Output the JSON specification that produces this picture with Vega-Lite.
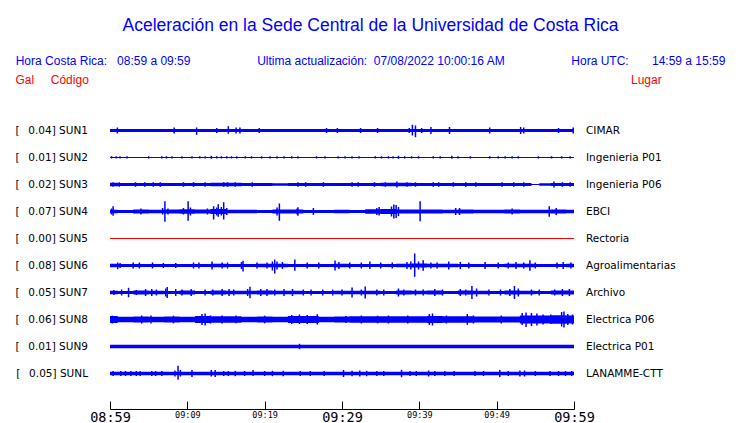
{
"$schema": "https://vega.github.io/schema/vega-lite/v6.json",
"padding": {"left": 15, "top": 16, "right": 0, "bottom": 0},
"background": "white",
"config": {"view": {"stroke": null}, "font": "DejaVu Sans"},
"title": {
  "text": "Aceleración en la Sede Central de la Universidad de Costa Rica",
  "subtitle": "Hora Costa Rica:\u00a0\u00a0\u00a008:59 a 09:59\u00a0\u00a0\u00a0\u00a0\u00a0\u00a0\u00a0\u00a0\u00a0\u00a0\u00a0\u00a0\u00a0\u00a0\u00a0\u00a0\u00a0\u00a0\u00a0\u00a0Ultima actualización:\u00a0\u00a007/08/2022 10:00:16 AM\u00a0\u00a0\u00a0\u00a0\u00a0\u00a0\u00a0\u00a0\u00a0\u00a0\u00a0\u00a0\u00a0\u00a0\u00a0\u00a0\u00a0\u00a0\u00a0\u00a0Hora UTC:\u00a0\u00a0\u00a0\u00a0\u00a0\u00a0\u00a014:59 a 15:59\u00a0\u00a0\u00a0",
  "font": "Liberation Sans", "fontSize": 17.5, "fontWeight": "normal", "color": "#0000ff",
  "subtitleFont": "Liberation Sans", "subtitleFontSize": 12, "subtitleColor": "#0000ff", "subtitlePadding": 22,
  "anchor": "middle", "dx": 25, "offset": 7
},
"datasets": {
  "estaciones": [
    {"s": "SUN1", "ord": 1, "etiqueta": "[\u00a0\u00a0\u20090.04] SUN1", "lugar": "CIMAR"},
    {"s": "SUN2", "ord": 2, "etiqueta": "[\u00a0\u00a0\u20090.01] SUN2", "lugar": "Ingenieria P01"},
    {"s": "SUN3", "ord": 3, "etiqueta": "[\u00a0\u00a0\u20090.02] SUN3", "lugar": "Ingenieria P06"},
    {"s": "SUN4", "ord": 4, "etiqueta": "[\u00a0\u00a0\u20090.07] SUN4", "lugar": "EBCI"},
    {"s": "SUN5", "ord": 5, "etiqueta": "[\u00a0\u00a0\u20090.00] SUN5", "lugar": "Rectoria"},
    {"s": "SUN6", "ord": 6, "etiqueta": "[\u00a0\u00a0\u20090.08] SUN6", "lugar": "Agroalimentarias"},
    {"s": "SUN7", "ord": 7, "etiqueta": "[\u00a0\u00a0\u20090.05] SUN7", "lugar": "Archivo"},
    {"s": "SUN8", "ord": 8, "etiqueta": "[\u00a0\u00a0\u20090.06] SUN8", "lugar": "Electrica P06"},
    {"s": "SUN9", "ord": 9, "etiqueta": "[\u00a0\u00a0\u20090.01] SUN9", "lugar": "Electrica P01"},
    {"s": "SUNL", "ord": 10, "etiqueta": "[\u00a0\u00a0\u20090.05] SUNL", "lugar": "LANAMME-CTT"}
  ],
  "trazas": [
    {"s":"SUN1","k":"e","t":0,"hi":1.5,"lo":-1.5},{"s":"SUN1","k":"e","t":60,"hi":1.5,"lo":-1.5},
    {"s":"SUN1","k":"p","t":0.95,"hi":3,"lo":-3},{"s":"SUN1","k":"p","t":8.3,"hi":3,"lo":-3},{"s":"SUN1","k":"p","t":11.2,"hi":3,"lo":-4.3},{"s":"SUN1","k":"p","t":13.8,"hi":2.5,"lo":-2.5},{"s":"SUN1","k":"p","t":15.3,"hi":4.3,"lo":-3.3},{"s":"SUN1","k":"p","t":16.3,"hi":3,"lo":-3},{"s":"SUN1","k":"p","t":16.8,"hi":3,"lo":-3},{"s":"SUN1","k":"p","t":19.3,"hi":2.5,"lo":-2.5},{"s":"SUN1","k":"p","t":28.0,"hi":2.5,"lo":-2.5},{"s":"SUN1","k":"p","t":29.4,"hi":2.5,"lo":-2.5},{"s":"SUN1","k":"p","t":32.4,"hi":2.5,"lo":-2.5},{"s":"SUN1","k":"p","t":34.6,"hi":2.5,"lo":-2.5},{"s":"SUN1","k":"p","t":38.7,"hi":2.5,"lo":-2.5},{"s":"SUN1","k":"p","t":39.1,"hi":5.7,"lo":-5},{"s":"SUN1","k":"p","t":39.5,"hi":5,"lo":-6.7},{"s":"SUN1","k":"p","t":40.3,"hi":2.5,"lo":-2.5},{"s":"SUN1","k":"p","t":41.5,"hi":3.5,"lo":-3.5},{"s":"SUN1","k":"p","t":43.9,"hi":3.5,"lo":-3.5},{"s":"SUN1","k":"p","t":49.1,"hi":3,"lo":-3},{"s":"SUN1","k":"p","t":53.1,"hi":3.5,"lo":-3.5},{"s":"SUN1","k":"p","t":53.5,"hi":3,"lo":-3},{"s":"SUN1","k":"p","t":58.0,"hi":2.5,"lo":-2.5},{"s":"SUN1","k":"p","t":59.9,"hi":3,"lo":-3},

    {"s":"SUN2","k":"e","t":0,"hi":0.5,"lo":-0.5},{"s":"SUN2","k":"e","t":60,"hi":0.5,"lo":-0.5},
    {"s":"SUN2","k":"p","t":0.2,"hi":1.3,"lo":-1},{"s":"SUN2","k":"p","t":0.8,"hi":1.3,"lo":-1},{"s":"SUN2","k":"p","t":1.3,"hi":1.3,"lo":-1},{"s":"SUN2","k":"p","t":2.2,"hi":1.3,"lo":-1},{"s":"SUN2","k":"p","t":5.0,"hi":1.3,"lo":-1},{"s":"SUN2","k":"p","t":6.7,"hi":1.3,"lo":-1},{"s":"SUN2","k":"p","t":7.3,"hi":1.3,"lo":-1},{"s":"SUN2","k":"p","t":8.0,"hi":1.3,"lo":-1},{"s":"SUN2","k":"p","t":9.3,"hi":1.3,"lo":-1},{"s":"SUN2","k":"p","t":10.6,"hi":1.3,"lo":-1},{"s":"SUN2","k":"p","t":11.6,"hi":1.3,"lo":-1},{"s":"SUN2","k":"p","t":12.3,"hi":1.3,"lo":-1},{"s":"SUN2","k":"p","t":13.1,"hi":1.7,"lo":-1.3},{"s":"SUN2","k":"p","t":13.8,"hi":1.3,"lo":-1},{"s":"SUN2","k":"p","t":14.4,"hi":1.3,"lo":-1},{"s":"SUN2","k":"p","t":15.1,"hi":1.3,"lo":-1},{"s":"SUN2","k":"p","t":15.7,"hi":1.3,"lo":-1},{"s":"SUN2","k":"p","t":16.4,"hi":1.3,"lo":-1},{"s":"SUN2","k":"p","t":17.5,"hi":1.3,"lo":-1},{"s":"SUN2","k":"p","t":18.3,"hi":1.3,"lo":-1},{"s":"SUN2","k":"p","t":19.6,"hi":1.3,"lo":-1},{"s":"SUN2","k":"p","t":20.7,"hi":1.3,"lo":-1},{"s":"SUN2","k":"p","t":21.6,"hi":1.3,"lo":-1},{"s":"SUN2","k":"p","t":22.5,"hi":1.3,"lo":-1},{"s":"SUN2","k":"p","t":23.5,"hi":1.3,"lo":-1},{"s":"SUN2","k":"p","t":24.3,"hi":1.3,"lo":-1},{"s":"SUN2","k":"p","t":26.7,"hi":1.3,"lo":-1},{"s":"SUN2","k":"p","t":27.8,"hi":1.3,"lo":-1},{"s":"SUN2","k":"p","t":29.5,"hi":1.3,"lo":-1},{"s":"SUN2","k":"p","t":30.4,"hi":1.3,"lo":-1},{"s":"SUN2","k":"p","t":31.3,"hi":1.3,"lo":-1},{"s":"SUN2","k":"p","t":32.2,"hi":1.3,"lo":-1},{"s":"SUN2","k":"p","t":34.3,"hi":1.3,"lo":-1},{"s":"SUN2","k":"p","t":35.1,"hi":1.3,"lo":-1},{"s":"SUN2","k":"p","t":36.0,"hi":1.3,"lo":-1},{"s":"SUN2","k":"p","t":36.6,"hi":1.3,"lo":-1},{"s":"SUN2","k":"p","t":37.3,"hi":1.7,"lo":-1.3},{"s":"SUN2","k":"p","t":38.1,"hi":1.3,"lo":-1},{"s":"SUN2","k":"p","t":39.0,"hi":1.3,"lo":-1},{"s":"SUN2","k":"p","t":39.9,"hi":1.3,"lo":-1},{"s":"SUN2","k":"p","t":41.8,"hi":1.3,"lo":-1},{"s":"SUN2","k":"p","t":42.7,"hi":1.3,"lo":-1},{"s":"SUN2","k":"p","t":44.2,"hi":1.7,"lo":-1.3},{"s":"SUN2","k":"p","t":45.0,"hi":1.3,"lo":-1},{"s":"SUN2","k":"p","t":46.6,"hi":1.3,"lo":-1},{"s":"SUN2","k":"p","t":49.1,"hi":1.3,"lo":-1},{"s":"SUN2","k":"p","t":50.2,"hi":1.3,"lo":-1},{"s":"SUN2","k":"p","t":51.1,"hi":1.3,"lo":-1},{"s":"SUN2","k":"p","t":52.0,"hi":1.3,"lo":-1},{"s":"SUN2","k":"p","t":52.8,"hi":1.3,"lo":-1},{"s":"SUN2","k":"p","t":55.4,"hi":1.3,"lo":-1},{"s":"SUN2","k":"p","t":57.1,"hi":1.3,"lo":-1},{"s":"SUN2","k":"p","t":58.4,"hi":1.3,"lo":-1},{"s":"SUN2","k":"p","t":59.5,"hi":1.3,"lo":-1},

    {"s":"SUN3","k":"e","t":0,"hi":1.8,"lo":-1.8},{"s":"SUN3","k":"e","t":2,"hi":1.6,"lo":-1.6},{"s":"SUN3","k":"e","t":4,"hi":1.6,"lo":-1.6},{"s":"SUN3","k":"e","t":6,"hi":1.5,"lo":-1.5},{"s":"SUN3","k":"e","t":8,"hi":1.5,"lo":-1.5},{"s":"SUN3","k":"e","t":10,"hi":1.6,"lo":-1.6},{"s":"SUN3","k":"e","t":12,"hi":1.6,"lo":-1.6},{"s":"SUN3","k":"e","t":14,"hi":1.8,"lo":-1.8},{"s":"SUN3","k":"e","t":16,"hi":1.8,"lo":-1.8},{"s":"SUN3","k":"e","t":18,"hi":1.5,"lo":-1.5},{"s":"SUN3","k":"e","t":20,"hi":1.4,"lo":-1.4},{"s":"SUN3","k":"e","t":22,"hi":1.3,"lo":-1.3},{"s":"SUN3","k":"e","t":24,"hi":1.6,"lo":-1.6},{"s":"SUN3","k":"e","t":26,"hi":1.4,"lo":-1.4},{"s":"SUN3","k":"e","t":28,"hi":1.5,"lo":-1.5},{"s":"SUN3","k":"e","t":30,"hi":1.5,"lo":-1.5},{"s":"SUN3","k":"e","t":32,"hi":1.5,"lo":-1.5},{"s":"SUN3","k":"e","t":34,"hi":1.6,"lo":-1.6},{"s":"SUN3","k":"e","t":36,"hi":1.8,"lo":-1.8},{"s":"SUN3","k":"e","t":38,"hi":1.8,"lo":-1.8},{"s":"SUN3","k":"e","t":40,"hi":1.6,"lo":-1.6},{"s":"SUN3","k":"e","t":42,"hi":1.6,"lo":-1.6},{"s":"SUN3","k":"e","t":44,"hi":1.5,"lo":-1.5},{"s":"SUN3","k":"e","t":46,"hi":1.6,"lo":-1.6},{"s":"SUN3","k":"e","t":48,"hi":1.4,"lo":-1.4},{"s":"SUN3","k":"e","t":50,"hi":1.6,"lo":-1.6},{"s":"SUN3","k":"e","t":52,"hi":1.6,"lo":-1.6},{"s":"SUN3","k":"e","t":54,"hi":1.5,"lo":-1.5},{"s":"SUN3","k":"e","t":55,"hi":0.5,"lo":-0.5},{"s":"SUN3","k":"e","t":56,"hi":1.3,"lo":-1.3},{"s":"SUN3","k":"e","t":58,"hi":1.6,"lo":-1.6},{"s":"SUN3","k":"e","t":60,"hi":1.6,"lo":-1.6},
    {"s":"SUN3","k":"p","t":0.4,"hi":2.3,"lo":-2.3},{"s":"SUN3","k":"p","t":1.2,"hi":2.3,"lo":-2.3},{"s":"SUN3","k":"p","t":3.3,"hi":2.3,"lo":-2.3},{"s":"SUN3","k":"p","t":4.5,"hi":2.3,"lo":-2.3},{"s":"SUN3","k":"p","t":5.6,"hi":2.3,"lo":-2.3},{"s":"SUN3","k":"p","t":6.5,"hi":2.3,"lo":-2.3},{"s":"SUN3","k":"p","t":9.5,"hi":2.3,"lo":-2.3},{"s":"SUN3","k":"p","t":10.8,"hi":2.3,"lo":-2.3},{"s":"SUN3","k":"p","t":12.3,"hi":2.3,"lo":-2.3},{"s":"SUN3","k":"p","t":14.7,"hi":2.3,"lo":-2.3},{"s":"SUN3","k":"p","t":15.2,"hi":2.3,"lo":-2.3},{"s":"SUN3","k":"p","t":16.2,"hi":2.3,"lo":-2.3},{"s":"SUN3","k":"p","t":18.4,"hi":2.3,"lo":-2.3},{"s":"SUN3","k":"p","t":24.3,"hi":2.3,"lo":-2.3},{"s":"SUN3","k":"p","t":25.3,"hi":2.3,"lo":-2.3},{"s":"SUN3","k":"p","t":27.6,"hi":2.3,"lo":-2.3},{"s":"SUN3","k":"p","t":31.3,"hi":2.3,"lo":-2.3},{"s":"SUN3","k":"p","t":32.1,"hi":2.3,"lo":-2.3},{"s":"SUN3","k":"p","t":34.2,"hi":2.3,"lo":-2.3},{"s":"SUN3","k":"p","t":35.6,"hi":2.3,"lo":-2.3},{"s":"SUN3","k":"p","t":37.1,"hi":3,"lo":-3},{"s":"SUN3","k":"p","t":38.4,"hi":2.3,"lo":-2.3},{"s":"SUN3","k":"p","t":39.5,"hi":2.3,"lo":-2.3},{"s":"SUN3","k":"p","t":41.8,"hi":2.3,"lo":-2.3},{"s":"SUN3","k":"p","t":42.5,"hi":2.3,"lo":-2.3},{"s":"SUN3","k":"p","t":44.4,"hi":2.3,"lo":-2.3},{"s":"SUN3","k":"p","t":46.0,"hi":2.3,"lo":-2.3},{"s":"SUN3","k":"p","t":47.3,"hi":2.3,"lo":-2.3},{"s":"SUN3","k":"p","t":50.7,"hi":2.3,"lo":-2.3},{"s":"SUN3","k":"p","t":52.2,"hi":2.3,"lo":-2.3},{"s":"SUN3","k":"p","t":53.5,"hi":2.3,"lo":-2.3},{"s":"SUN3","k":"p","t":57.4,"hi":3,"lo":-3},{"s":"SUN3","k":"p","t":58.5,"hi":2.3,"lo":-2.3},{"s":"SUN3","k":"p","t":59.5,"hi":2.3,"lo":-2.3},

    {"s":"SUN4","k":"e","t":0,"hi":1.8,"lo":-1.8},{"s":"SUN4","k":"e","t":2,"hi":1.4,"lo":-1.4},{"s":"SUN4","k":"e","t":4,"hi":2.0,"lo":-2.0},{"s":"SUN4","k":"e","t":6,"hi":1.8,"lo":-1.8},{"s":"SUN4","k":"e","t":8,"hi":2.0,"lo":-2.0},{"s":"SUN4","k":"e","t":10,"hi":2.2,"lo":-2.2},{"s":"SUN4","k":"e","t":12,"hi":2.0,"lo":-2.0},{"s":"SUN4","k":"e","t":14,"hi":2.6,"lo":-2.6},{"s":"SUN4","k":"e","t":16,"hi":1.8,"lo":-1.8},{"s":"SUN4","k":"e","t":18,"hi":1.8,"lo":-1.8},{"s":"SUN4","k":"e","t":20,"hi":1.6,"lo":-1.6},{"s":"SUN4","k":"e","t":22,"hi":2.0,"lo":-2.0},{"s":"SUN4","k":"e","t":24,"hi":2.0,"lo":-2.0},{"s":"SUN4","k":"e","t":26,"hi":1.6,"lo":-1.6},{"s":"SUN4","k":"e","t":28,"hi":1.6,"lo":-1.6},{"s":"SUN4","k":"e","t":30,"hi":1.8,"lo":-1.8},{"s":"SUN4","k":"e","t":32,"hi":1.6,"lo":-1.6},{"s":"SUN4","k":"e","t":34,"hi":2.2,"lo":-2.2},{"s":"SUN4","k":"e","t":36,"hi":2.4,"lo":-2.4},{"s":"SUN4","k":"e","t":38,"hi":2.0,"lo":-2.0},{"s":"SUN4","k":"e","t":40,"hi":2.0,"lo":-2.0},{"s":"SUN4","k":"e","t":42,"hi":2.0,"lo":-2.0},{"s":"SUN4","k":"e","t":44,"hi":1.8,"lo":-1.8},{"s":"SUN4","k":"e","t":46,"hi":2.0,"lo":-2.0},{"s":"SUN4","k":"e","t":48,"hi":1.8,"lo":-1.8},{"s":"SUN4","k":"e","t":50,"hi":1.8,"lo":-1.8},{"s":"SUN4","k":"e","t":52,"hi":2.0,"lo":-2.0},{"s":"SUN4","k":"e","t":54,"hi":1.8,"lo":-1.8},{"s":"SUN4","k":"e","t":56,"hi":1.8,"lo":-1.8},{"s":"SUN4","k":"e","t":58,"hi":2.0,"lo":-2.0},{"s":"SUN4","k":"e","t":60,"hi":1.8,"lo":-1.8},
    {"s":"SUN4","k":"p","t":0.2,"hi":3,"lo":-3},{"s":"SUN4","k":"p","t":0.4,"hi":5.3,"lo":-4.3},{"s":"SUN4","k":"p","t":4.0,"hi":3,"lo":-3},{"s":"SUN4","k":"p","t":6.8,"hi":3.5,"lo":-3},{"s":"SUN4","k":"p","t":7.1,"hi":10.3,"lo":-10.3},{"s":"SUN4","k":"p","t":7.5,"hi":3,"lo":-3},{"s":"SUN4","k":"p","t":9.5,"hi":3.5,"lo":-3},{"s":"SUN4","k":"p","t":10.1,"hi":10.3,"lo":-9.3},{"s":"SUN4","k":"p","t":10.4,"hi":4,"lo":-4},{"s":"SUN4","k":"p","t":12.6,"hi":3,"lo":-3},{"s":"SUN4","k":"p","t":13.4,"hi":5.3,"lo":-8},{"s":"SUN4","k":"p","t":13.8,"hi":4,"lo":-4},{"s":"SUN4","k":"p","t":14.0,"hi":7.3,"lo":-5.3},{"s":"SUN4","k":"p","t":14.4,"hi":4.5,"lo":-4},{"s":"SUN4","k":"p","t":14.7,"hi":9.3,"lo":-8},{"s":"SUN4","k":"p","t":15.1,"hi":3.5,"lo":-3.5},{"s":"SUN4","k":"p","t":21.6,"hi":4,"lo":-4},{"s":"SUN4","k":"p","t":21.9,"hi":8,"lo":-9.3},{"s":"SUN4","k":"p","t":24.2,"hi":3,"lo":-3},{"s":"SUN4","k":"p","t":24.3,"hi":4.3,"lo":-4.3},{"s":"SUN4","k":"p","t":26.3,"hi":3.5,"lo":-3.5},{"s":"SUN4","k":"p","t":34.5,"hi":3.5,"lo":-3.5},{"s":"SUN4","k":"p","t":34.8,"hi":4.5,"lo":-4},{"s":"SUN4","k":"p","t":36.4,"hi":5,"lo":-5},{"s":"SUN4","k":"p","t":36.7,"hi":7,"lo":-7},{"s":"SUN4","k":"p","t":37.0,"hi":6.5,"lo":-6.5},{"s":"SUN4","k":"p","t":37.3,"hi":4.5,"lo":-4.5},{"s":"SUN4","k":"p","t":40.1,"hi":10.3,"lo":-9.7},{"s":"SUN4","k":"p","t":44.7,"hi":3.5,"lo":-3.5},{"s":"SUN4","k":"p","t":45.2,"hi":3.5,"lo":-3.5},{"s":"SUN4","k":"p","t":52.0,"hi":3,"lo":-3},{"s":"SUN4","k":"p","t":56.8,"hi":5.3,"lo":-5.3},{"s":"SUN4","k":"p","t":57.7,"hi":3.5,"lo":-3.5},

    {"s":"SUN5","k":"e","t":0,"hi":0,"lo":0},{"s":"SUN5","k":"e","t":60,"hi":0,"lo":0},

    {"s":"SUN6","k":"e","t":0,"hi":1.8,"lo":-1.8},{"s":"SUN6","k":"e","t":2,"hi":1.6,"lo":-1.6},{"s":"SUN6","k":"e","t":4,"hi":1.4,"lo":-1.4},{"s":"SUN6","k":"e","t":6,"hi":1.6,"lo":-1.6},{"s":"SUN6","k":"e","t":8,"hi":1.4,"lo":-1.4},{"s":"SUN6","k":"e","t":10,"hi":1.6,"lo":-1.6},{"s":"SUN6","k":"e","t":12,"hi":1.6,"lo":-1.6},{"s":"SUN6","k":"e","t":14,"hi":1.8,"lo":-1.8},{"s":"SUN6","k":"e","t":16,"hi":1.6,"lo":-1.6},{"s":"SUN6","k":"e","t":18,"hi":1.6,"lo":-1.6},{"s":"SUN6","k":"e","t":20,"hi":1.8,"lo":-1.8},{"s":"SUN6","k":"e","t":22,"hi":1.8,"lo":-1.8},{"s":"SUN6","k":"e","t":24,"hi":1.6,"lo":-1.6},{"s":"SUN6","k":"e","t":26,"hi":1.6,"lo":-1.6},{"s":"SUN6","k":"e","t":28,"hi":1.4,"lo":-1.4},{"s":"SUN6","k":"e","t":30,"hi":1.8,"lo":-1.8},{"s":"SUN6","k":"e","t":32,"hi":1.6,"lo":-1.6},{"s":"SUN6","k":"e","t":34,"hi":1.6,"lo":-1.6},{"s":"SUN6","k":"e","t":36,"hi":1.6,"lo":-1.6},{"s":"SUN6","k":"e","t":38,"hi":1.8,"lo":-1.8},{"s":"SUN6","k":"e","t":40,"hi":2.0,"lo":-2.0},{"s":"SUN6","k":"e","t":42,"hi":1.8,"lo":-1.8},{"s":"SUN6","k":"e","t":44,"hi":1.8,"lo":-1.8},{"s":"SUN6","k":"e","t":46,"hi":1.6,"lo":-1.6},{"s":"SUN6","k":"e","t":48,"hi":1.4,"lo":-1.4},{"s":"SUN6","k":"e","t":50,"hi":1.6,"lo":-1.6},{"s":"SUN6","k":"e","t":52,"hi":1.8,"lo":-1.8},{"s":"SUN6","k":"e","t":54,"hi":1.8,"lo":-1.8},{"s":"SUN6","k":"e","t":56,"hi":1.4,"lo":-1.4},{"s":"SUN6","k":"e","t":58,"hi":1.6,"lo":-1.6},{"s":"SUN6","k":"e","t":60,"hi":1.8,"lo":-1.8},
    {"s":"SUN6","k":"p","t":1.0,"hi":3,"lo":-3.7},{"s":"SUN6","k":"p","t":1.3,"hi":2.5,"lo":-2.5},{"s":"SUN6","k":"p","t":3.0,"hi":3,"lo":-3},{"s":"SUN6","k":"p","t":3.8,"hi":3,"lo":-3},{"s":"SUN6","k":"p","t":5.5,"hi":3,"lo":-3},{"s":"SUN6","k":"p","t":6.9,"hi":2.5,"lo":-2.5},{"s":"SUN6","k":"p","t":8.5,"hi":2.5,"lo":-2.5},{"s":"SUN6","k":"p","t":10.8,"hi":3,"lo":-3},{"s":"SUN6","k":"p","t":11.5,"hi":3,"lo":-3},{"s":"SUN6","k":"p","t":13.2,"hi":4,"lo":-4},{"s":"SUN6","k":"p","t":14.5,"hi":3,"lo":-3},{"s":"SUN6","k":"p","t":15.2,"hi":3,"lo":-3},{"s":"SUN6","k":"p","t":17.0,"hi":3.5,"lo":-3.5},{"s":"SUN6","k":"p","t":17.2,"hi":4.7,"lo":-6},{"s":"SUN6","k":"p","t":19.0,"hi":3,"lo":-3},{"s":"SUN6","k":"p","t":20.3,"hi":3,"lo":-3},{"s":"SUN6","k":"p","t":21.0,"hi":4,"lo":-5},{"s":"SUN6","k":"p","t":21.3,"hi":6,"lo":-8},{"s":"SUN6","k":"p","t":21.6,"hi":4,"lo":-4},{"s":"SUN6","k":"p","t":22.3,"hi":3.5,"lo":-3.5},{"s":"SUN6","k":"p","t":23.9,"hi":6,"lo":-5.3},{"s":"SUN6","k":"p","t":25.5,"hi":3,"lo":-3},{"s":"SUN6","k":"p","t":27.0,"hi":3,"lo":-3},{"s":"SUN6","k":"p","t":29.1,"hi":5,"lo":-5},{"s":"SUN6","k":"p","t":29.6,"hi":3.5,"lo":-3.5},{"s":"SUN6","k":"p","t":31.0,"hi":3,"lo":-3},{"s":"SUN6","k":"p","t":32.5,"hi":3,"lo":-3},{"s":"SUN6","k":"p","t":33.6,"hi":4,"lo":-3.5},{"s":"SUN6","k":"p","t":35.0,"hi":3,"lo":-3},{"s":"SUN6","k":"p","t":36.5,"hi":3,"lo":-3},{"s":"SUN6","k":"p","t":38.4,"hi":3.5,"lo":-3.5},{"s":"SUN6","k":"p","t":38.9,"hi":4,"lo":-4},{"s":"SUN6","k":"p","t":39.4,"hi":12,"lo":-11.3},{"s":"SUN6","k":"p","t":39.9,"hi":4,"lo":-4},{"s":"SUN6","k":"p","t":40.5,"hi":5.3,"lo":-5.3},{"s":"SUN6","k":"p","t":41.5,"hi":3,"lo":-3},{"s":"SUN6","k":"p","t":42.3,"hi":3,"lo":-3},{"s":"SUN6","k":"p","t":43.8,"hi":4,"lo":-4},{"s":"SUN6","k":"p","t":45.3,"hi":3.5,"lo":-3.5},{"s":"SUN6","k":"p","t":46.4,"hi":3,"lo":-3},{"s":"SUN6","k":"p","t":48.5,"hi":3.5,"lo":-3.5},{"s":"SUN6","k":"p","t":50.2,"hi":3,"lo":-3},{"s":"SUN6","k":"p","t":51.5,"hi":3,"lo":-3},{"s":"SUN6","k":"p","t":52.5,"hi":3.5,"lo":-3.5},{"s":"SUN6","k":"p","t":53.5,"hi":3,"lo":-3},{"s":"SUN6","k":"p","t":54.3,"hi":5.3,"lo":-5.3},{"s":"SUN6","k":"p","t":55.0,"hi":3,"lo":-3},{"s":"SUN6","k":"p","t":57.8,"hi":3,"lo":-3},{"s":"SUN6","k":"p","t":58.6,"hi":3.5,"lo":-3.5},{"s":"SUN6","k":"p","t":59.6,"hi":3,"lo":-3},

    {"s":"SUN7","k":"e","t":0,"hi":1.8,"lo":-1.8},{"s":"SUN7","k":"e","t":2,"hi":1.6,"lo":-1.6},{"s":"SUN7","k":"e","t":4,"hi":2.0,"lo":-2.0},{"s":"SUN7","k":"e","t":6,"hi":1.8,"lo":-1.8},{"s":"SUN7","k":"e","t":8,"hi":1.6,"lo":-1.6},{"s":"SUN7","k":"e","t":10,"hi":2.0,"lo":-2.0},{"s":"SUN7","k":"e","t":12,"hi":1.6,"lo":-1.6},{"s":"SUN7","k":"e","t":14,"hi":2.0,"lo":-2.0},{"s":"SUN7","k":"e","t":16,"hi":1.8,"lo":-1.8},{"s":"SUN7","k":"e","t":18,"hi":1.8,"lo":-1.8},{"s":"SUN7","k":"e","t":20,"hi":2.0,"lo":-2.0},{"s":"SUN7","k":"e","t":22,"hi":1.8,"lo":-1.8},{"s":"SUN7","k":"e","t":24,"hi":1.8,"lo":-1.8},{"s":"SUN7","k":"e","t":26,"hi":1.6,"lo":-1.6},{"s":"SUN7","k":"e","t":28,"hi":1.6,"lo":-1.6},{"s":"SUN7","k":"e","t":30,"hi":1.8,"lo":-1.8},{"s":"SUN7","k":"e","t":32,"hi":1.8,"lo":-1.8},{"s":"SUN7","k":"e","t":34,"hi":1.8,"lo":-1.8},{"s":"SUN7","k":"e","t":36,"hi":1.6,"lo":-1.6},{"s":"SUN7","k":"e","t":38,"hi":2.0,"lo":-2.0},{"s":"SUN7","k":"e","t":40,"hi":1.8,"lo":-1.8},{"s":"SUN7","k":"e","t":42,"hi":2.0,"lo":-2.0},{"s":"SUN7","k":"e","t":44,"hi":1.6,"lo":-1.6},{"s":"SUN7","k":"e","t":46,"hi":2.0,"lo":-2.0},{"s":"SUN7","k":"e","t":48,"hi":1.8,"lo":-1.8},{"s":"SUN7","k":"e","t":50,"hi":1.6,"lo":-1.6},{"s":"SUN7","k":"e","t":52,"hi":2.0,"lo":-2.0},{"s":"SUN7","k":"e","t":54,"hi":1.8,"lo":-1.8},{"s":"SUN7","k":"e","t":56,"hi":1.6,"lo":-1.6},{"s":"SUN7","k":"e","t":58,"hi":2.0,"lo":-2.0},{"s":"SUN7","k":"e","t":60,"hi":2.0,"lo":-2.0},
    {"s":"SUN7","k":"p","t":0.5,"hi":2.5,"lo":-2.5},{"s":"SUN7","k":"p","t":1.5,"hi":3,"lo":-3},{"s":"SUN7","k":"p","t":2.4,"hi":4.7,"lo":-4.7},{"s":"SUN7","k":"p","t":3.4,"hi":2.5,"lo":-2.5},{"s":"SUN7","k":"p","t":4.6,"hi":3.5,"lo":-3.5},{"s":"SUN7","k":"p","t":5.4,"hi":3.5,"lo":-3.5},{"s":"SUN7","k":"p","t":6.0,"hi":3,"lo":-3},{"s":"SUN7","k":"p","t":7.2,"hi":4,"lo":-4},{"s":"SUN7","k":"p","t":7.4,"hi":5.5,"lo":-5.5},{"s":"SUN7","k":"p","t":8.5,"hi":3.5,"lo":-3.5},{"s":"SUN7","k":"p","t":9.3,"hi":3,"lo":-3},{"s":"SUN7","k":"p","t":10.5,"hi":3.5,"lo":-3.5},{"s":"SUN7","k":"p","t":12.3,"hi":3,"lo":-3},{"s":"SUN7","k":"p","t":13.3,"hi":3,"lo":-3},{"s":"SUN7","k":"p","t":14.5,"hi":3.5,"lo":-3.5},{"s":"SUN7","k":"p","t":15.4,"hi":3.5,"lo":-3.5},{"s":"SUN7","k":"p","t":16.0,"hi":3,"lo":-3},{"s":"SUN7","k":"p","t":17.8,"hi":3.5,"lo":-3.5},{"s":"SUN7","k":"p","t":18.1,"hi":5.7,"lo":-5.7},{"s":"SUN7","k":"p","t":19.5,"hi":3.5,"lo":-3.5},{"s":"SUN7","k":"p","t":20.3,"hi":3.5,"lo":-3.5},{"s":"SUN7","k":"p","t":21.3,"hi":3,"lo":-3},{"s":"SUN7","k":"p","t":22.5,"hi":3.5,"lo":-3.5},{"s":"SUN7","k":"p","t":23.6,"hi":3.5,"lo":-3.5},{"s":"SUN7","k":"p","t":25.0,"hi":3,"lo":-3},{"s":"SUN7","k":"p","t":26.0,"hi":3,"lo":-3},{"s":"SUN7","k":"p","t":27.5,"hi":3,"lo":-3},{"s":"SUN7","k":"p","t":28.8,"hi":3,"lo":-3},{"s":"SUN7","k":"p","t":30.0,"hi":3,"lo":-3},{"s":"SUN7","k":"p","t":31.3,"hi":5,"lo":-5},{"s":"SUN7","k":"p","t":32.5,"hi":3,"lo":-3},{"s":"SUN7","k":"p","t":33.0,"hi":6,"lo":-6},{"s":"SUN7","k":"p","t":34.5,"hi":3,"lo":-3},{"s":"SUN7","k":"p","t":35.4,"hi":3,"lo":-3},{"s":"SUN7","k":"p","t":37.3,"hi":4,"lo":-4},{"s":"SUN7","k":"p","t":38.0,"hi":3,"lo":-3},{"s":"SUN7","k":"p","t":39.5,"hi":3,"lo":-3},{"s":"SUN7","k":"p","t":40.5,"hi":3,"lo":-3},{"s":"SUN7","k":"p","t":42.0,"hi":3.5,"lo":-3.5},{"s":"SUN7","k":"p","t":43.0,"hi":3,"lo":-3},{"s":"SUN7","k":"p","t":45.3,"hi":3.5,"lo":-3.5},{"s":"SUN7","k":"p","t":46.0,"hi":3,"lo":-3},{"s":"SUN7","k":"p","t":46.8,"hi":6.5,"lo":-6.5},{"s":"SUN7","k":"p","t":47.4,"hi":4,"lo":-4},{"s":"SUN7","k":"p","t":49.0,"hi":3,"lo":-3},{"s":"SUN7","k":"p","t":50.5,"hi":3,"lo":-3},{"s":"SUN7","k":"p","t":51.7,"hi":3.5,"lo":-3.5},{"s":"SUN7","k":"p","t":52.3,"hi":6.5,"lo":-6.5},{"s":"SUN7","k":"p","t":52.8,"hi":4,"lo":-4},{"s":"SUN7","k":"p","t":54.5,"hi":3,"lo":-3},{"s":"SUN7","k":"p","t":55.5,"hi":3,"lo":-3},{"s":"SUN7","k":"p","t":57.5,"hi":3,"lo":-3},{"s":"SUN7","k":"p","t":58.5,"hi":3.5,"lo":-3.5},{"s":"SUN7","k":"p","t":59.4,"hi":3.5,"lo":-3.5},

    {"s":"SUN8","k":"e","t":0,"hi":3.5,"lo":-3.5},{"s":"SUN8","k":"e","t":2,"hi":2.8,"lo":-2.8},{"s":"SUN8","k":"e","t":4,"hi":3.0,"lo":-3.0},{"s":"SUN8","k":"e","t":6,"hi":2.8,"lo":-2.8},{"s":"SUN8","k":"e","t":8,"hi":3.0,"lo":-3.0},{"s":"SUN8","k":"e","t":10,"hi":2.8,"lo":-2.8},{"s":"SUN8","k":"e","t":12,"hi":3.5,"lo":-3.5},{"s":"SUN8","k":"e","t":14,"hi":3.2,"lo":-3.2},{"s":"SUN8","k":"e","t":16,"hi":3.2,"lo":-3.2},{"s":"SUN8","k":"e","t":18,"hi":2.8,"lo":-2.8},{"s":"SUN8","k":"e","t":20,"hi":3.0,"lo":-3.0},{"s":"SUN8","k":"e","t":22,"hi":2.8,"lo":-2.8},{"s":"SUN8","k":"e","t":24,"hi":3.5,"lo":-3.5},{"s":"SUN8","k":"e","t":26,"hi":3.5,"lo":-3.5},{"s":"SUN8","k":"e","t":28,"hi":2.8,"lo":-2.8},{"s":"SUN8","k":"e","t":30,"hi":3.0,"lo":-3.0},{"s":"SUN8","k":"e","t":32,"hi":3.2,"lo":-3.2},{"s":"SUN8","k":"e","t":34,"hi":3.2,"lo":-3.2},{"s":"SUN8","k":"e","t":36,"hi":3.2,"lo":-3.2},{"s":"SUN8","k":"e","t":38,"hi":3.2,"lo":-3.2},{"s":"SUN8","k":"e","t":40,"hi":3.2,"lo":-3.2},{"s":"SUN8","k":"e","t":42,"hi":3.5,"lo":-3.5},{"s":"SUN8","k":"e","t":44,"hi":3.2,"lo":-3.2},{"s":"SUN8","k":"e","t":46,"hi":3.2,"lo":-3.2},{"s":"SUN8","k":"e","t":48,"hi":3.0,"lo":-3.0},{"s":"SUN8","k":"e","t":50,"hi":3.0,"lo":-3.0},{"s":"SUN8","k":"e","t":52,"hi":3.0,"lo":-3.0},{"s":"SUN8","k":"e","t":54,"hi":4.0,"lo":-4.0},{"s":"SUN8","k":"e","t":56,"hi":4.0,"lo":-4.0},{"s":"SUN8","k":"e","t":58,"hi":4.2,"lo":-4.2},{"s":"SUN8","k":"e","t":60,"hi":4.0,"lo":-4.0},
    {"s":"SUN8","k":"p","t":0.3,"hi":3.8,"lo":-4},{"s":"SUN8","k":"p","t":4.1,"hi":4,"lo":-4},{"s":"SUN8","k":"p","t":5.3,"hi":4,"lo":-4},{"s":"SUN8","k":"p","t":8.2,"hi":3.8,"lo":-3.8},{"s":"SUN8","k":"p","t":11.9,"hi":5.5,"lo":-5.5},{"s":"SUN8","k":"p","t":12.3,"hi":6,"lo":-6},{"s":"SUN8","k":"p","t":13.0,"hi":4,"lo":-4},{"s":"SUN8","k":"p","t":14.5,"hi":4,"lo":-4},{"s":"SUN8","k":"p","t":16.3,"hi":4,"lo":-3.8},{"s":"SUN8","k":"p","t":20.0,"hi":3.8,"lo":-3.8},{"s":"SUN8","k":"p","t":23.5,"hi":4.5,"lo":-4.5},{"s":"SUN8","k":"p","t":24.5,"hi":5,"lo":-4.5},{"s":"SUN8","k":"p","t":25.5,"hi":4.5,"lo":-4.5},{"s":"SUN8","k":"p","t":26.8,"hi":5.3,"lo":-5},{"s":"SUN8","k":"p","t":30.5,"hi":3.5,"lo":-3.5},{"s":"SUN8","k":"p","t":32.5,"hi":4,"lo":-4},{"s":"SUN8","k":"p","t":34.6,"hi":3.8,"lo":-3.8},{"s":"SUN8","k":"p","t":36.0,"hi":4,"lo":-4},{"s":"SUN8","k":"p","t":38.5,"hi":4,"lo":-4},{"s":"SUN8","k":"p","t":41.3,"hi":5.5,"lo":-5.5},{"s":"SUN8","k":"p","t":41.7,"hi":6,"lo":-6},{"s":"SUN8","k":"p","t":43.5,"hi":4,"lo":-4},{"s":"SUN8","k":"p","t":46.2,"hi":5.5,"lo":-5.3},{"s":"SUN8","k":"p","t":47.0,"hi":4,"lo":-4},{"s":"SUN8","k":"p","t":50.6,"hi":4,"lo":-4},{"s":"SUN8","k":"p","t":53.3,"hi":6.5,"lo":-5.5},{"s":"SUN8","k":"p","t":53.8,"hi":7,"lo":-7.5},{"s":"SUN8","k":"p","t":54.5,"hi":6.5,"lo":-6.5},{"s":"SUN8","k":"p","t":55.2,"hi":6,"lo":-6},{"s":"SUN8","k":"p","t":56.0,"hi":5,"lo":-5},{"s":"SUN8","k":"p","t":57.0,"hi":5,"lo":-4.5},{"s":"SUN8","k":"p","t":58.4,"hi":7.5,"lo":-7},{"s":"SUN8","k":"p","t":58.7,"hi":8,"lo":-8},{"s":"SUN8","k":"p","t":59.2,"hi":5.5,"lo":-5.5},{"s":"SUN8","k":"p","t":59.8,"hi":5,"lo":-5},

    {"s":"SUN9","k":"e","t":0,"hi":1.7,"lo":-1.7},{"s":"SUN9","k":"e","t":60,"hi":1.7,"lo":-1.7},
    {"s":"SUN9","k":"p","t":24.5,"hi":2.7,"lo":-2.7},

    {"s":"SUNL","k":"e","t":0,"hi":1.7,"lo":-1.7},{"s":"SUNL","k":"e","t":60,"hi":1.7,"lo":-1.7},
    {"s":"SUNL","k":"p","t":0.4,"hi":2.5,"lo":-2.5},{"s":"SUNL","k":"p","t":1.4,"hi":2.5,"lo":-2.5},{"s":"SUNL","k":"p","t":2.0,"hi":2.5,"lo":-2.5},{"s":"SUNL","k":"p","t":2.7,"hi":2.5,"lo":-2.5},{"s":"SUNL","k":"p","t":3.4,"hi":2.5,"lo":-2.5},{"s":"SUNL","k":"p","t":3.9,"hi":2.5,"lo":-2.5},{"s":"SUNL","k":"p","t":5.4,"hi":2.5,"lo":-2.5},{"s":"SUNL","k":"p","t":5.9,"hi":2.5,"lo":-2.5},{"s":"SUNL","k":"p","t":6.7,"hi":2.5,"lo":-2.5},{"s":"SUNL","k":"p","t":8.4,"hi":3,"lo":-3},{"s":"SUNL","k":"p","t":8.8,"hi":7.7,"lo":-6.3},{"s":"SUNL","k":"p","t":9.1,"hi":3.5,"lo":-3},{"s":"SUNL","k":"p","t":10.6,"hi":3.5,"lo":-3.5},{"s":"SUNL","k":"p","t":13.1,"hi":3.5,"lo":-3},{"s":"SUNL","k":"p","t":13.6,"hi":3.5,"lo":-3.5},{"s":"SUNL","k":"p","t":14.7,"hi":2.5,"lo":-2.5},{"s":"SUNL","k":"p","t":15.3,"hi":2.5,"lo":-2.5},{"s":"SUNL","k":"p","t":16.2,"hi":2.7,"lo":-2.7},{"s":"SUNL","k":"p","t":17.4,"hi":2.5,"lo":-2.5},{"s":"SUNL","k":"p","t":18.5,"hi":3.5,"lo":-2.5},{"s":"SUNL","k":"p","t":20.0,"hi":2.5,"lo":-2.5},{"s":"SUNL","k":"p","t":21.0,"hi":2.7,"lo":-2.7},{"s":"SUNL","k":"p","t":22.4,"hi":2.7,"lo":-2.7},{"s":"SUNL","k":"p","t":24.6,"hi":2.5,"lo":-2.5},{"s":"SUNL","k":"p","t":25.9,"hi":2.5,"lo":-2.5},{"s":"SUNL","k":"p","t":27.7,"hi":2.5,"lo":-2.5},{"s":"SUNL","k":"p","t":30.2,"hi":3.5,"lo":-3.5},{"s":"SUNL","k":"p","t":31.3,"hi":2.7,"lo":-2.7},{"s":"SUNL","k":"p","t":32.3,"hi":3,"lo":-3},{"s":"SUNL","k":"p","t":33.2,"hi":2.7,"lo":-2.7},{"s":"SUNL","k":"p","t":34.5,"hi":2.5,"lo":-2.5},{"s":"SUNL","k":"p","t":35.4,"hi":2.5,"lo":-2.5},{"s":"SUNL","k":"p","t":37.7,"hi":3.7,"lo":-3.7},{"s":"SUNL","k":"p","t":38.8,"hi":2.5,"lo":-2.5},{"s":"SUNL","k":"p","t":39.6,"hi":2.5,"lo":-2.5},{"s":"SUNL","k":"p","t":41.2,"hi":3,"lo":-3},{"s":"SUNL","k":"p","t":42.0,"hi":2.5,"lo":-2.5},{"s":"SUNL","k":"p","t":43.3,"hi":2.5,"lo":-2.5},{"s":"SUNL","k":"p","t":44.5,"hi":2.5,"lo":-2.5},{"s":"SUNL","k":"p","t":47.2,"hi":2.5,"lo":-2.5},{"s":"SUNL","k":"p","t":48.3,"hi":2.5,"lo":-2.5},{"s":"SUNL","k":"p","t":50.4,"hi":3.5,"lo":-3.5},{"s":"SUNL","k":"p","t":51.5,"hi":2.5,"lo":-2.5},{"s":"SUNL","k":"p","t":53.0,"hi":3,"lo":-3},{"s":"SUNL","k":"p","t":53.6,"hi":3,"lo":-3},{"s":"SUNL","k":"p","t":55.0,"hi":2.5,"lo":-2.5},{"s":"SUNL","k":"p","t":56.9,"hi":2.5,"lo":-2.5},{"s":"SUNL","k":"p","t":58.0,"hi":2.5,"lo":-2.5},{"s":"SUNL","k":"p","t":58.9,"hi":2.5,"lo":-2.5},{"s":"SUNL","k":"p","t":59.7,"hi":2.5,"lo":-2.5}
  ]
},
"vconcat": [
  {
    "title": {"text": "Lugar", "anchor": "end", "color": "#ff0000", "font": "Liberation Sans", "fontSize": 12, "fontWeight": "normal", "dx": -14, "dy": 17},
    "vconcat": [
      {
        "title": {"text": "Gal\u00a0\u00a0\u00a0\u00a0\u00a0Código", "anchor": "start", "color": "#ff0000", "font": "Liberation Sans", "fontSize": 12, "fontWeight": "normal", "offset": 30},
        "data": {"name": "trazas"},
        "transform": [
          {"lookup": "s", "from": {"data": {"name": "estaciones"}, "key": "s", "fields": ["etiqueta", "lugar", "ord"]}}
        ],
        "spacing": {"row": 0},
        "facet": {
          "row": {
            "field": "etiqueta", "type": "nominal",
            "sort": {"field": "ord", "op": "min"},
            "title": null,
            "header": {"labels": false}
          }
        },
        "spec": {
          "width": 464,
          "height": 27,
          "layer": [
            {
              "transform": [{"filter": "datum.k === 'e'"}],
              "mark": {"type": "area", "interpolate": "step", "color": "#0000ff", "opacity": 1},
              "encoding": {
                "x": {"field": "t", "type": "quantitative", "scale": {"domain": [0, 60], "nice": false, "zero": false},
                  "axis": {"values": [0,5,10,15,20,25,30,35,40,45,50,55,60], "title": null, "grid": false,
                    "labelExpr": "datum.value % 10 ? '' : (datum.value == 0 ? '08:59' : '09:' + format(datum.value - 1, '02d'))",
                    "domainColor": "black", "tickColor": "black", "tickSize": -8, "offset": 22,
                    "labelFont": "DejaVu Sans Mono", "labelColor": "black",
                    "labelFontSize": {"condition": {"test": "datum.value % 30 === 0", "value": 13.5}, "value": 8.5},
                    "labelFlush": false, "labelOverlap": false, "labelPadding": 9}},
                "y": {"field": "hi", "type": "quantitative", "scale": {"domain": [-13.5, 13.5], "nice": false, "zero": false}, "axis": null},
                "y2": {"field": "lo"}
              }
            },
            {
              "transform": [{"filter": "datum.k === 'p'"}],
              "mark": {"type": "rule", "color": "#0000ff", "strokeWidth": 1.5},
              "encoding": {
                "x": {"field": "t", "type": "quantitative"},
                "y": {"field": "hi", "type": "quantitative", "scale": {"domain": [-13.5, 13.5], "nice": false, "zero": false}, "axis": null},
                "y2": {"field": "lo"}
              }
            },
            {
              "transform": [{"filter": "datum.k === 'e' && datum.t === 0"}],
              "mark": {"type": "rule", "strokeWidth": 1.2},
              "encoding": {
                "x": {"datum": 0},
                "x2": {"datum": 60},
                "y": {"datum": 0},
                "color": {"condition": {"test": "datum.s === 'SUN5'", "value": "#ff0000"}, "value": "#0000ff"}
              }
            },
            {
              "transform": [{"filter": "datum.k === 'e' && datum.t === 0"}],
              "mark": {"type": "text", "align": "right", "baseline": "middle", "dx": -22, "font": "DejaVu Sans", "fontSize": 10.5, "color": "black"},
              "encoding": {
                "x": {"datum": 0},
                "y": {"datum": 0},
                "text": {"field": "etiqueta"}
              }
            },
            {
              "transform": [{"filter": "datum.k === 'e' && datum.t === 0"}],
              "mark": {"type": "text", "align": "left", "baseline": "middle", "dx": 12, "font": "DejaVu Sans", "fontSize": 10.5, "color": "black"},
              "encoding": {
                "x": {"datum": 60},
                "y": {"datum": 0},
                "text": {"field": "lugar"}
              }
            }
          ]
        }
      }
    ]
  }
]
}
